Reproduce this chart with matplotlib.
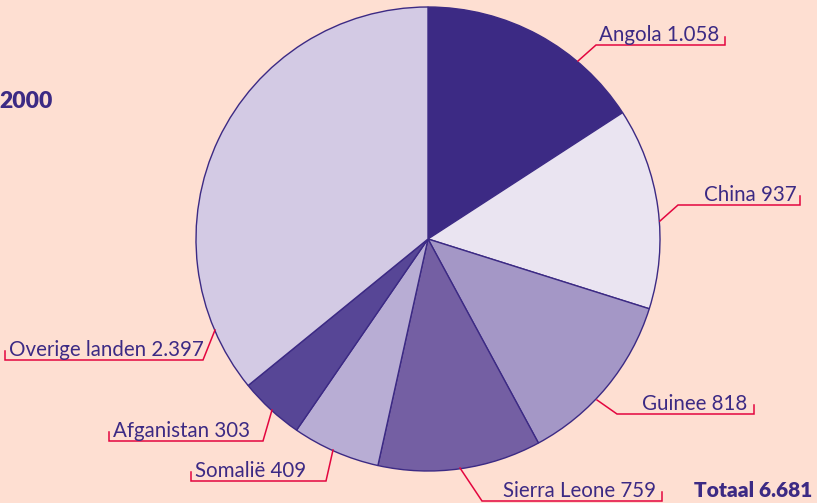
import matplotlib.pyplot as plt

W, H = 817, 503

countries = ["Angola", "China", "Guinee", "Sierra Leone", "Somalië", "Afganistan", "Overige landen"]
values = [1058, 937, 818, 759, 409, 303, 2397]
value_labels = ["1.058", "937", "818", "759", "409", "303", "2.397"]
total_label = "6.681"

colors = ["#3c2a84", "#eae4f1", "#a497c6", "#745fa3", "#b8add4", "#574696", "#d3cae4"]
bg = "#fedfd2"
ink = "#3c2a84"
lead = "#e3063f"

# label layout in pixels: text x, alignment, leader polyline
layout = [
    (599, "left", [(578, 61), (596, 45), (725, 45), (725, 37)]),
    (797, "right", [(660, 221), (678, 205), (800, 205), (800, 196)]),
    (747, "right", [(597, 400), (617, 414), (754, 414), (754, 405)]),
    (656, "right", [(460, 468), (482, 501), (662, 501), (662, 492)]),
    (195, "left", [(333, 450), (326, 481), (191, 481), (191, 472)]),
    (113, "left", [(272, 410), (263, 441), (109, 441), (109, 432)]),
    (9, "left", [(215, 330), (203, 360), (5, 360), (5, 351)]),
]

plt.rcParams['font.family'] = ['Lato', 'DejaVu Sans']

def py(y):
    return H - y

fig = plt.figure(figsize=(W / 100, H / 100), dpi=100, facecolor=bg)
ax = fig.add_axes([0, 0, 1, 1])
ax.set_facecolor(bg)

ax.pie(values, colors=colors, startangle=90, counterclock=False,
       center=(428, py(239)), radius=232,
       wedgeprops=dict(edgecolor=ink, linewidth=1.0))

for name, val, (tx, ha, pts) in zip(countries, value_labels, layout):
    xs = [p[0] for p in pts]
    ys = [py(p[1]) for p in pts]
    ax.plot(xs, ys, color=lead, lw=1.1, solid_joinstyle="miter")
    ax.text(tx, py(pts[2][1] - 4), name + " " + val, ha=ha, va="baseline",
            color=ink, fontsize=14.8)

ax.text(-1, py(108), "2000", ha="left", va="baseline", color=ink,
        fontsize=16.5, fontweight="heavy")
ax.text(812, py(497), "Totaal " + total_label, ha="right", va="baseline",
        color=ink, fontsize=15, fontweight="heavy")

ax.set_xlim(0, W)
ax.set_ylim(0, H)
ax.set_aspect("auto")
ax.axis("off")

fig.savefig("out.png", dpi=100, facecolor=bg)
